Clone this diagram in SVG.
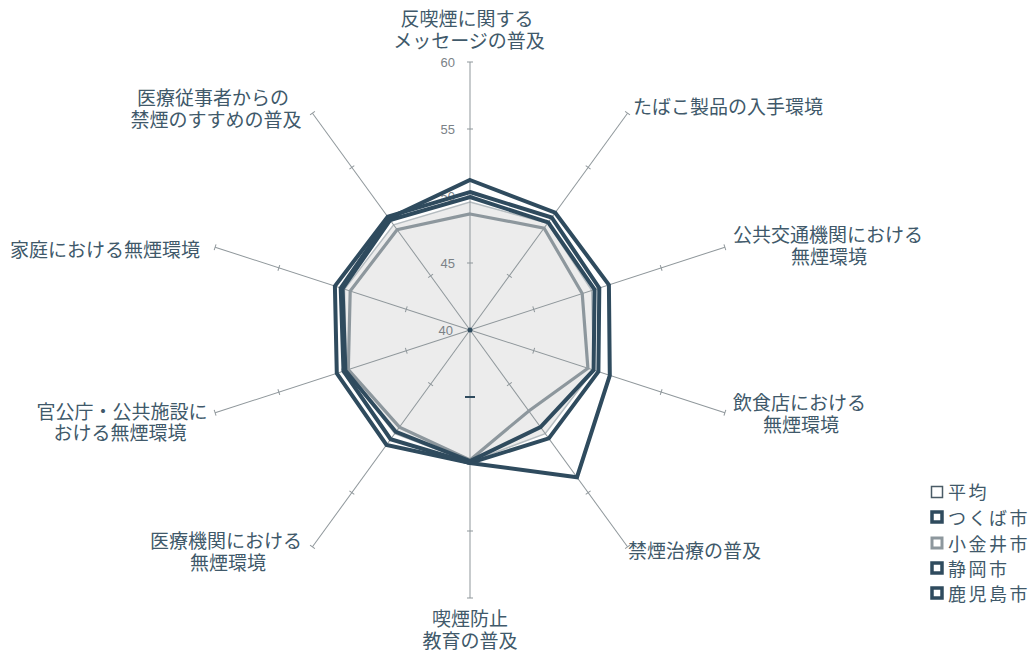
<svg xmlns="http://www.w3.org/2000/svg" xmlns:xlink="http://www.w3.org/1999/xlink" width="1033" height="652" viewBox="0 0 1033 652">
<style>
.lbl{font-family:"Liberation Sans","Noto Sans CJK JP",sans-serif;font-size:19px;fill:#40596a}
.tk{font-family:"Liberation Sans",Arial,sans-serif;font-size:13px;fill:#7b8287;text-anchor:end}
.leg{font-family:"Liberation Sans","Noto Sans CJK JP",sans-serif;font-size:18px;fill:#40596a;letter-spacing:2.5px}
.ax{stroke:#8f979b;stroke-width:1;fill:none}
.dark{fill:none;stroke:#2f4b5e;stroke-width:4;stroke-linejoin:miter}
.gray{fill:none;stroke:#8d979d;stroke-width:3.2;stroke-linejoin:miter}
.avg{fill:#ececec;stroke:#b5bcc0;stroke-width:1.5}
</style>
<defs>
<g id="axis">
<line class="ax" x1="470" y1="330" x2="470" y2="62"/>
<line class="ax" x1="467" y1="263" x2="473" y2="263"/>
<line class="ax" x1="467" y1="196" x2="473" y2="196"/>
<line class="ax" x1="467" y1="129" x2="473" y2="129"/>
<line class="ax" x1="467" y1="62" x2="473" y2="62"/>
</g>
</defs>
<rect width="1033" height="652" fill="#ffffff"/>
<g id="series-average">
<polygon class="avg" points="470,202 547.6,223.2 591.7,290.4 593.6,370.2 545.2,433.6 470,462 394.8,433.6 346.4,370.2 344.5,289.2 393.6,224.8"/>
</g>
<g id="axes">
<use xlink:href="#axis"/>
<use xlink:href="#axis" transform="rotate(36 470 330)"/>
<use xlink:href="#axis" transform="rotate(72 470 330)"/>
<use xlink:href="#axis" transform="rotate(108 470 330)"/>
<use xlink:href="#axis" transform="rotate(144 470 330)"/>
<use xlink:href="#axis" transform="rotate(180 470 330)"/>
<use xlink:href="#axis" transform="rotate(216 470 330)"/>
<use xlink:href="#axis" transform="rotate(252 470 330)"/>
<use xlink:href="#axis" transform="rotate(288 470 330)"/>
<use xlink:href="#axis" transform="rotate(324 470 330)"/>
<line x1="465" y1="397" x2="475" y2="397" stroke="#2f4b5e" stroke-width="2"/>
<circle cx="470" cy="330" r="2.5" fill="#2f4b5e"/>
</g>
<g id="scale">
<text class="tk" x="455" y="67">60</text>
<text class="tk" x="455" y="134">55</text>
<text class="tk" x="455" y="201">50</text>
<text class="tk" x="455" y="268">45</text>
<text class="tk" x="453" y="335">40</text>
</g>
<g id="series-koganei">
<polygon class="gray" points="470,214 544.1,228.1 582.2,293.5 587.9,368.3 528.8,410.9 470,460 399.5,427.1 348.3,369.6 350.2,291.1 397.1,229.7"/>
</g>
<g id="series-shizuoka">
<polygon class="dark" points="470,197 548.2,222.4 594.6,289.5 593.6,370.2 540.5,427.1 470,461 395.9,431.9 345.4,370.5 342.6,288.6 390.1,220"/>
</g>
<g id="series-tsukuba">
<polygon class="dark" points="470,192 551.7,217.5 599.3,288 598.4,371.7 548.8,438.4 470,463 386.5,444.9 336.8,373.3 334.9,286.1 387.7,216.7"/>
</g>
<g id="series-kagoshima">
<polygon class="dark" points="470,180 555.2,212.7 608.9,284.9 609.8,375.4 577,477.2 470,463 390.6,439.2 343.5,371.1 340.7,288 388.9,218.4"/>
</g>
<g id="labels">
<text class="lbl" x="467" y="26" text-anchor="middle">反喫煙に関する</text>
<text class="lbl" x="469" y="48" text-anchor="middle">メッセージの普及</text>
<text class="lbl" x="633" y="114">たばこ製品の入手環境</text>
<text class="lbl" x="733" y="242">公共交通機関における</text>
<text class="lbl" x="829" y="264" text-anchor="middle">無煙環境</text>
<text class="lbl" x="733" y="410">飲食店における</text>
<text class="lbl" x="801" y="432" text-anchor="middle">無煙環境</text>
<text class="lbl" x="628" y="558">禁煙治療の普及</text>
<text class="lbl" x="470" y="626" text-anchor="middle">喫煙防止</text>
<text class="lbl" x="470" y="648" text-anchor="middle">教育の普及</text>
<text class="lbl" x="226" y="548" text-anchor="middle">医療機関における</text>
<text class="lbl" x="228" y="570" text-anchor="middle">無煙環境</text>
<text class="lbl" x="122" y="419" text-anchor="middle">官公庁・公共施設に</text>
<text class="lbl" x="120" y="440" text-anchor="middle">おける無煙環境</text>
<text class="lbl" x="10" y="257">家庭における無煙環境</text>
<text class="lbl" x="213" y="105" text-anchor="middle">医療従事者からの</text>
<text class="lbl" x="216" y="127" text-anchor="middle">禁煙のすすめの普及</text>
</g>
<g id="legend">
<rect x="931.5" y="486.5" width="11" height="11" fill="#fff" stroke="#4a5b66" stroke-width="1.5"/>
<text class="leg" x="948" y="499">平均</text>
<rect x="932" y="512" width="10" height="10" fill="#fff" stroke="#2f4b5e" stroke-width="3.5"/>
<text class="leg" x="948" y="525">つくば市</text>
<rect x="932" y="538" width="10" height="10" fill="#fff" stroke="#8d979d" stroke-width="3"/>
<text class="leg" x="948" y="551">小金井市</text>
<rect x="932" y="563" width="10" height="10" fill="#fff" stroke="#2f4b5e" stroke-width="3.5"/>
<text class="leg" x="948" y="576">静岡市</text>
<rect x="932" y="588" width="10" height="10" fill="#fff" stroke="#2f4b5e" stroke-width="3.5"/>
<text class="leg" x="948" y="601">鹿児島市</text>
</g>
</svg>
